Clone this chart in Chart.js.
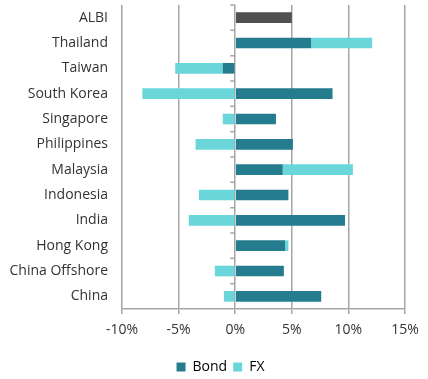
<!DOCTYPE html>
<html>
<head>
<meta charset="utf-8">
<script src="https://cdn.jsdelivr.net/npm/chart.js@4"></script>
<style>
  html, body { margin: 0; padding: 0; background: #fff; }
  #wrap { width: 428px; height: 379px; }
</style>
</head>
<body>
<div id="wrap"><canvas id="myChart" width="428" height="379"></canvas></div>
<script>
// data (percent)
var categories = ['ALBI', 'Thailand', 'Taiwan', 'South Korea', 'Singapore', 'Philippines',
                  'Malaysia', 'Indonesia', 'India', 'Hong Kong', 'China Offshore', 'China'];
var bondValues = [5.0, 6.7, -1.1, 8.6, 3.6, 5.1, 4.2, 4.7, 9.7, 4.4, 4.3, 7.6];
var fxValues   = [0, 5.4, -4.2, -8.2, -1.1, -3.5, 6.2, -3.2, -4.1, 0.3, -1.8, -1.0];
var xTicks = [-10, -5, 0, 5, 10, 15];

var bondColor = '#267c8f';
var fxColor = '#6ad6d9';
var albiColor = '#505050';
var gridColor = '#a6a6a6';
var textColor = '#333333';

//////////////////////////////////////
//      little ticks on 0 line      //
//////////////////////////////////////

const zeroTicks = {
    id: 'zeroTicks',
    afterDraw: function(chart) {
        const ctx = chart.ctx;
        const x = chart.scales.x;
        const y = chart.scales.y;
        const x0 = x.getPixelForValue(0);
        const step = y.getPixelForValue(1) - y.getPixelForValue(0);
        ctx.save();
        ctx.strokeStyle = gridColor;
        ctx.lineWidth = 1.5;
        ctx.beginPath();
        for (let i = 0; i < categories.length; i++) {
            const yy = y.getPixelForValue(i) - step / 2;
            ctx.moveTo(x0 - 5, yy);
            ctx.lineTo(x0, yy);
        }
        ctx.stroke();
        ctx.restore();
    }
};

// legend sits a bit right of the canvas centre (and lower) in the original
const legendShift = {
    id: 'legendShift',
    afterLayout: function(chart) {
        chart.legend.left += 18;
        chart.legend.right += 18;
        chart.legend.top += 5;
        chart.legend.bottom += 5;
    }
};

function initChart() {
    const ctx = document.getElementById('myChart').getContext('2d');
    new Chart(ctx, {
        type: 'bar',
        data: {
            labels: categories,
            datasets: [
                {
                    label: 'Bond',
                    data: bondValues,
                    backgroundColor: categories.map(c => c == 'ALBI' ? albiColor : bondColor),
                    barPercentage: 0.42,
                    categoryPercentage: 1
                },
                {
                    label: 'FX',
                    data: fxValues,
                    backgroundColor: fxColor,
                    barPercentage: 0.42,
                    categoryPercentage: 1
                }
            ]
        },
        plugins: [zeroTicks, legendShift],
        options: {
            indexAxis: 'y',
            responsive: false,
            animation: false,
            layout: { padding: { top: 5, right: 23, left: 0, bottom: 0 } },
            scales: {
                x: {
                    stacked: true,
                    min: -10,
                    max: 15,
                    afterBuildTicks: function(scale) {
                        scale.ticks = xTicks.map(v => ({ value: v }));
                    },
                    afterFit: function(scale) { scale.height = 40; },
                    grid: {
                        color: gridColor,
                        lineWidth: 1.5,
                        drawTicks: true,
                        tickLength: 5,
                        tickColor: gridColor
                    },
                    border: { color: gridColor, width: 1.5 },
                    ticks: {
                        padding: 8,
                        color: textColor,
                        font: { family: 'Open Sans', size: 14 },
                        callback: function(v) { return v + '%'; }
                    }
                },
                y: {
                    stacked: true,
                    grid: { display: false },
                    border: { display: false },
                    afterFit: function(scale) {
                        scale.width = 122;
                        scale.paddingTop = 0;
                        scale.paddingBottom = 0;
                    },
                    ticks: {
                        padding: 6,
                        color: textColor,
                        font: { family: 'Open Sans', size: 14 }
                    }
                }
            },
            plugins: {
                tooltip: { enabled: false },
                legend: {
                    position: 'bottom',
                    labels: {
                        boxWidth: 9,
                        boxHeight: 9,
                        padding: 6,
                        color: textColor,
                        font: { family: 'Open Sans', size: 14 },
                        generateLabels: function(chart) {
                            return [
                                { text: 'Bond', fillStyle: bondColor, strokeStyle: bondColor, lineWidth: 0, datasetIndex: 0 },
                                { text: 'FX', fillStyle: fxColor, strokeStyle: fxColor, lineWidth: 0, datasetIndex: 1 }
                            ];
                        }
                    }
                }
            }
        }
    });
}
window.onload = initChart;
</script>
</body>
</html>
